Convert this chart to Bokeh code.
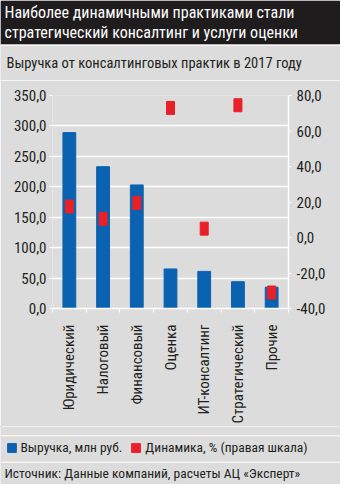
import math
from bokeh.plotting import figure
from bokeh.layouts import column
from bokeh.models import (Range1d, LinearAxis, FixedTicker, CustomJSTickFormatter,
                          Label, BoxAnnotation, Legend, LegendItem, ColumnDataSource)
from bokeh.embed import file_html
from bokeh.resources import INLINE

categories = ["Юридический", "Налоговый", "Финансовый", "Оценка",
              "ИТ-консалтинг", "Стратегический", "Прочие"]
revenue = [289, 233, 203, 65, 61, 44, 35]          # млн руб. (left axis)
growth = [17.5, 10.5, 19.5, 73.0, 5.0, 74.5, -31.0]  # % (right axis)
left_ticks = [0, 50, 100, 150, 200, 250, 300, 350]
right_ticks = [-40, -20, 0, 20, 40, 60, 80]

title_lines = ["Наиболее динамичными практиками стали",
               "стратегический консалтинг и услуги оценки"]
subtitle = "Выручка от консалтинговых практик в 2017 году"
legend_labels = ["Выручка, млн руб.", "Динамика, % (правая шкала)"]
source = "Источник: Данные компаний, расчеты АЦ «Эксперт»"

FONT = "Roboto Condensed"
BG = "#dcdcdc"
DARK = "#1f1c1d"
BLUE = "#0a62b0"
RED = "#e8202a"
TXT = "#231f20"
SEP = "#f4f4f4"

W = 340
HEAD_H, MAIN_H, FOOT_H = 80, 346, 58


def blank(h):
    f = figure(width=W, height=h, output_backend="svg", toolbar_location=None,
               x_range=Range1d(0, W), y_range=Range1d(h, 0),
               x_axis_type=None, y_axis_type=None, frame_align=False,
               min_border=0, min_border_left=0, min_border_right=0,
               min_border_top=0, min_border_bottom=0)
    f.background_fill_color = BG
    f.border_fill_color = BG
    f.outline_line_color = None
    f.xgrid.visible = False
    f.ygrid.visible = False
    return f


# ---------- header ----------
head = blank(HEAD_H)
head.add_layout(BoxAnnotation(left=0, right=W, top=0, bottom=44, fill_color=DARK,
                              fill_alpha=1, line_color=None, level="underlay"))
head.add_layout(BoxAnnotation(left=0, right=W, top=44, bottom=45.5, fill_color=SEP,
                              fill_alpha=1, line_color=None))
for i, t in enumerate(title_lines):
    head.add_layout(Label(x=4, y=11.5 + i * 20, text=t, text_font=FONT,
                          text_font_size="16px", text_color="white",
                          text_baseline="middle"))
head.add_layout(Label(x=6, y=63, text=subtitle, text_font=FONT,
                      text_font_size="14.5px", text_color=TXT, text_baseline="middle"))

# ---------- main chart ----------
p = figure(width=W, height=MAIN_H, output_backend="svg", toolbar_location=None,
           x_range=Range1d(0, len(categories)), y_range=Range1d(0, 350),
           min_border_left=52, min_border_right=52, min_border_top=15,
           min_border_bottom=107, frame_align=False)
p.extra_y_ranges = {"right": Range1d(-40, 80)}
p.background_fill_color = BG
p.border_fill_color = BG
p.outline_line_color = None

fmt = CustomJSTickFormatter(code="return tick.toFixed(1).replace('.', ',');")

la = p.yaxis[0]
la.ticker = FixedTicker(ticks=left_ticks)
la.formatter = fmt
la.axis_line_color = None
la.major_tick_line_color = "white"
la.major_tick_out = 3
la.major_tick_in = 0
la.minor_tick_line_color = None
la.major_label_text_font = FONT
la.major_label_text_font_size = "15px"
la.major_label_text_color = TXT
la.major_label_standoff = 3

ra = LinearAxis(y_range_name="right", ticker=FixedTicker(ticks=right_ticks), formatter=fmt)
ra.axis_line_color = "white"
ra.axis_line_width = 1.5
ra.major_tick_line_color = "white"
ra.major_tick_out = 3
ra.major_tick_in = 0
ra.minor_tick_line_color = None
ra.major_label_text_font = FONT
ra.major_label_text_font_size = "15px"
ra.major_label_text_color = TXT
ra.major_label_standoff = 5
p.add_layout(ra, "right")

xa = p.xaxis[0]
xa.ticker = FixedTicker(ticks=[i + 0.5 for i in range(len(categories))],
                        minor_ticks=list(range(len(categories) + 1)))
xa.formatter = CustomJSTickFormatter(args=dict(labels=categories),
                                     code="return labels[Math.floor(tick)];")
xa.axis_line_color = "white"
xa.axis_line_width = 1.5
xa.major_tick_line_color = None
xa.major_tick_out = 0
xa.major_tick_in = 0
xa.minor_tick_line_color = "white"
xa.minor_tick_out = 4
xa.minor_tick_in = 0
xa.major_label_orientation = math.pi / 2
xa.major_label_text_font = FONT
xa.major_label_text_font_size = "15px"
xa.major_label_text_color = TXT
xa.major_label_standoff = 12

p.xgrid.visible = False
p.ygrid.grid_line_color = "white"
p.ygrid.grid_line_width = 1.5

xs = [i + 0.5 for i in range(len(categories))]
bars = p.vbar(x=xs, top=revenue, width=0.38, color=BLUE)
marks = p.rect(x=xs, y=growth, width=8, height=13, width_units="screen",
               height_units="screen", color=RED, y_range_name="right")

# ---------- footer: legend + source ----------
foot = blank(FOOT_H)
for yy in (8.5, 35):
    foot.add_layout(BoxAnnotation(left=0, right=W, top=yy, bottom=yy + 1.5,
                                  fill_color=SEP, fill_alpha=1, line_color=None))
# swatch-only renderers, kept outside the visible range
dummy = ColumnDataSource(dict(x=[-1000], y=[-1000]))
lb = foot.vbar(x="x", top="y", width=1, color=BLUE, source=dummy)
lr = foot.rect(x="x", y="y", width=1, height=1, color=RED, source=dummy)
legend = Legend(items=[LegendItem(label=legend_labels[0], renderers=[lb]),
                       LegendItem(label=legend_labels[1], renderers=[lr])],
                orientation="horizontal", location=(5.5, FOOT_H - 29))
legend.background_fill_alpha = 0
legend.border_line_color = None
legend.padding = 0
legend.margin = 0
legend.spacing = 8
legend.glyph_width = 11
legend.glyph_height = 11
legend.label_standoff = 4
legend.label_height = 11
legend.label_text_font = FONT
legend.label_text_font_size = "13.5px"
legend.label_text_color = TXT
foot.add_layout(legend)
foot.add_layout(Label(x=4, y=46, text=source, text_font=FONT,
                      text_font_size="13.5px", text_color=TXT, text_baseline="middle"))

layout = column(head, p, foot, spacing=0)
open("out.html", "w").write(file_html(layout, INLINE))
